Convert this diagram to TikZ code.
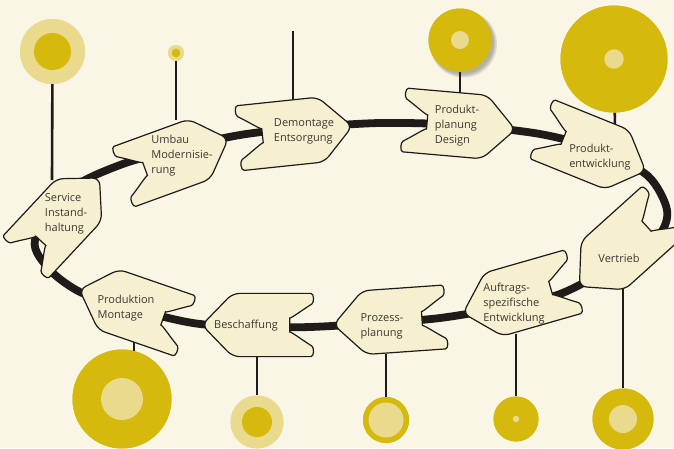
\documentclass[tikz,border=0pt]{standalone}
\usepackage{fontspec}
\setmainfont{Open Sans}
\definecolor{bg}{HTML}{F9F6E6}
\definecolor{nodefill}{HTML}{F6EFD0}
\definecolor{dgold}{HTML}{D5B90C}
\definecolor{lgold}{HTML}{E9DA8E}
\definecolor{ink}{HTML}{1E1B18}
\definecolor{txt}{HTML}{3C3833}
\newcommand\drawchev[4]{%
 \begin{scope}[shift={(#1,#2)}, rotate=#3, scale=#4]
 \path[chevshape] (0,-31) -- (22,-31) -- (52,0) -- (22,31) -- (-48,31)
   .. controls (-58,31) and (-58,22) .. (-50,17)
   .. controls (-40,10) and (-34,6) .. (-34,0)
   .. controls (-34,-6) and (-40,-10) .. (-50,-17)
   .. controls (-58,-22) and (-58,-31) .. (-48,-31) -- cycle;
 \end{scope}}
\begin{document}
\begin{tikzpicture}[x=1pt,y=-1pt,
  loopline/.style={draw=ink, line width=7.8pt},
  stem/.style={draw=ink, line width=2.6pt},
  chevshape/.style={draw=ink, line width=1.2pt, fill=nodefill, rounded corners=7pt},
  lbl/.style={font=\fontsize{11}{15}\selectfont, text=txt, align=left, inner sep=0pt},
  disc/.style={circle, inner sep=0pt, draw=none, minimum size=#1},
]
\fill[bg] (0,0) rectangle (674,448);
\useasboundingbox (0,0) rectangle (674,448);

% the loop
\draw[loopline] plot[smooth cycle, tension=0.5] coordinates {
 (35,240) (70,190) (120,165) (180,148) (240,135) (300,128) (380,123) (460,125)
 (540,134) (600,150) (648,176) (667,210) (658,236) (615,265) (560,294) (500,308)
 (440,318) (380,323) (310,327) (255,327) (200,324) (160,316) (120,305) (80,292) (50,270)};

% stem anchor coordinates on the process shapes
\coordinate (s1) at (52,180);
\coordinate (s2) at (176,120);
\coordinate (s3) at (293,100);
\coordinate (s3top) at (293,31);
\coordinate (s4) at (460,92);
\coordinate (s5) at (615,130);
\coordinate (s6) at (623,288);
\coordinate (s7) at (516,334);
\coordinate (s8) at (386,354);
\coordinate (s9) at (257,352);
\coordinate (s10) at (134,335);

% soft shadow of one circle
\foreach \o/\a in {0.10/0, 0.10/1, 0.10/2}{
  \fill[black, opacity=\o] (462.5+\a*0.5,43+\a*0.5) circle (31.5+\a);}

% circles
\node[disc=65pt, fill=lgold] (c1) at (52.5,51.5) {};
\node[disc=16pt, fill=lgold] (c2) at (176,53) {};
\node[disc=63pt, fill=dgold] (c4) at (460,40) {};
\node[disc=107pt, fill=dgold] (c5) at (614,59) {};
\node[disc=61pt, fill=dgold] (c6) at (623,419) {};
\node[disc=45pt, fill=dgold] (c7) at (516,419) {};
\node[disc=46pt, fill=dgold] (c8) at (386,420) {};
\node[disc=53pt, fill=lgold] (c9) at (257,422) {};
\node[disc=99pt, fill=dgold] (c10) at (122,399) {};

% stems
\draw[stem] (c1) -- (s1);
\draw[stem] (c2) -- (s2);
\draw[stem] (s3top) -- (s3);
\draw[stem] (c4) -- (s4);
\draw[stem] (c5) -- (s5);
\draw[stem] (s6) -- (c6);
\draw[stem] (s7) -- (c7);
\draw[stem] (s8) -- (c8);
\draw[stem] (s9) -- (c9);
\draw[stem] (s10) -- (s10 |- c10.center);

% redraw circles over stems, with inner discs
\node[disc=65pt, fill=lgold] at (c1) {};
\node[disc=37pt, fill=dgold] (c1i) at (c1) {};
\node[disc=16pt, fill=lgold] at (c2) {};
\node[disc=8.6pt, fill=dgold] (c2i) at (c2) {};
\node[disc=63pt, fill=dgold] at (c4) {};
\node[disc=18pt, fill=lgold] (c4i) at (c4) {};
\node[disc=107pt, fill=dgold] at (c5) {};
\node[disc=19.5pt, fill=lgold] (c5i) at (c5) {};
\node[disc=61pt, fill=dgold] at (c6) {};
\node[disc=28pt, fill=lgold] (c6i) at (c6) {};
\node[disc=45pt, fill=dgold] at (c7) {};
\node[disc=6.5pt, fill=lgold] (c7i) at (c7) {};
\node[disc=46pt, fill=dgold] at (c8) {};
\node[disc=35pt, fill=lgold] (c8i) at (c8) {};
\node[disc=53pt, fill=lgold] at (c9) {};
\node[disc=30pt, fill=dgold] (c9i) at (c9) {};
\node[disc=99pt, fill=dgold] at (c10) {};
\node[disc=42pt, fill=lgold] (c10i) at (c10) {};

% process shapes
\drawchev{298}{132}{6}{1.05}
\drawchev{462}{125}{-5}{1.03}
\drawchev{596}{151}{-22}{1.03}
\drawchev{620}{250}{222}{1.05}
\drawchev{516}{298}{196}{1.06}
\drawchev{387}{321}{184}{1.03}
\drawchev{255}{325}{180}{1.02}
\drawchev{130}{307}{161}{1.03}
\drawchev{64}{216}{47}{1}
\drawchev{178}{157}{20}{1.03}

% labels
\node[lbl] (t1) at (304,131) {Demontage\\Entsorgung};
\node[lbl] (t2) at (457,126) {Produkt-\\planung\\Design};
\node[lbl] (t3) at (600,157) {Produkt-\\entwicklung};
\node[lbl] (t4) at (619,258) {Vertrieb};
\node[lbl] (t5) at (514,304) {Auftrags-\\spezifische\\Entwicklung};
\node[lbl] (t6) at (382,326) {Prozess-\\planung};
\node[lbl] (t7) at (246,326) {Beschaffung};
\node[lbl] (t8) at (126,308) {Produktion\\Montage};
\node[lbl] (t9) at (66,214) {Service\\Instand-\\haltung};
\node[lbl] (t10) at (182,156) {Umbau\\Modernisie-\\rung};
\end{tikzpicture}
\end{document}
